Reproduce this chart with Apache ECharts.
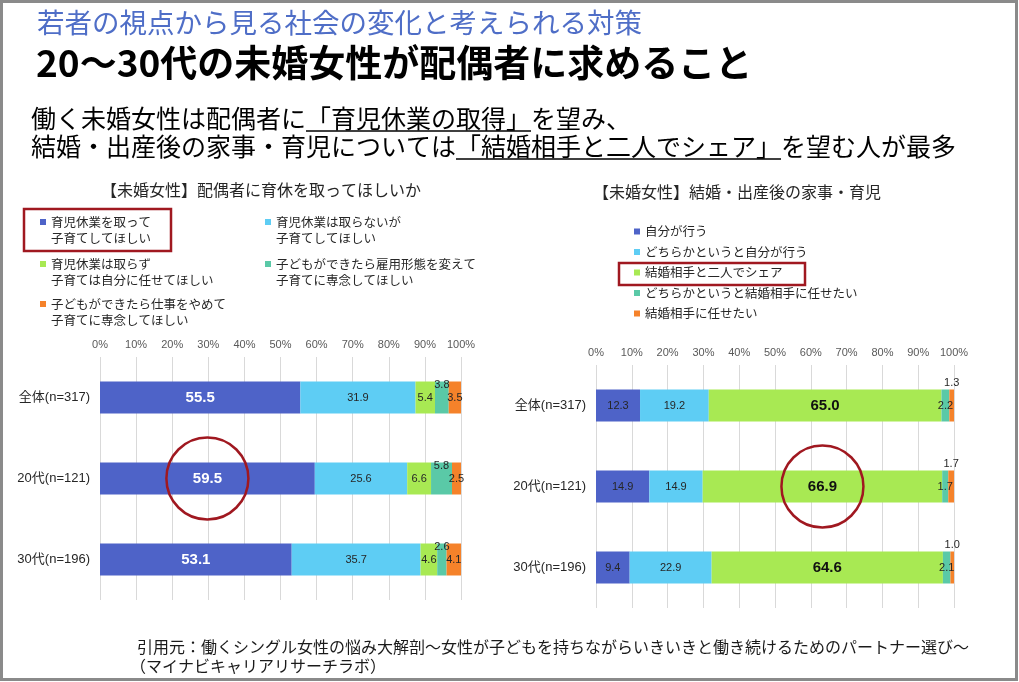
<!DOCTYPE html>
<html>
<head>
<meta charset="utf-8">
<script src="https://cdn.jsdelivr.net/npm/echarts@6/dist/echarts.min.js"></script>
<style>
  html, body { margin: 0; padding: 0; background: #fff; }
  #main { width: 1019px; height: 682px; }
</style>
</head>
<body>
<div id="main"></div>
<script>
// 年代区分
var groups = ["全体(n=317)", "20代(n=121)", "30代(n=196)"];

// 【未婚女性】配偶者に育休を取ってほしいか
var leaveNames = [
  "育児休業を取って\n子育てしてほしい",
  "育児休業は取らないが\n子育てしてほしい",
  "育児休業は取らず\n子育ては自分に任せてほしい",
  "子どもができたら雇用形態を変えて\n子育てに専念してほしい",
  "子どもができたら仕事をやめて\n子育てに専念してほしい",
];
var leaveTake = [55.5, 59.5, 53.1];
var leaveNoTake = [31.9, 25.6, 35.7];
var leaveLeaveToMe = [5.4, 6.6, 4.6];
var leaveChangeJob = [3.8, 5.8, 2.6];
var leaveQuitJob = [3.5, 2.5, 4.1];

// 【未婚女性】結婚・出産後の家事・育児
var choreNames = [
  "自分が行う",
  "どちらかというと自分が行う",
  "結婚相手と二人でシェア",
  "どちらかというと結婚相手に任せたい",
  "結婚相手に任せたい",
];
var choreSelf = [12.3, 14.9, 9.4];
var choreMostlySelf = [19.2, 14.9, 22.9];
var choreShare = [65.0, 66.9, 64.6];
var choreMostlyPartner = [2.2, 1.7, 2.1];
var chorePartner = [1.3, 1.7, 1.0];

var colors = ["#4e63c8", "#5ecdf4", "#a8e953", "#5ac9a7", "#f5822a"];
var RED = "#a01820";
var JP = '"Noto Sans CJK JP"';
var LAT = '"Liberation Sans", "Noto Sans CJK JP"';

var chartDom = document.getElementById("main");
var myChart = echarts.init(chartDom);

function fmt(p) {
  return Number(p.value).toFixed(1);
}

var smallLabel = { show: true, formatter: fmt, fontSize: 11, color: "#262626", fontFamily: LAT };
var bigLabel = { show: true, formatter: fmt, fontSize: 15, fontWeight: "bold", fontFamily: LAT };

function bar(name, data, idx, color, stack, label) {
  return {
    name: name,
    type: "bar",
    stack: stack,
    xAxisIndex: idx,
    yAxisIndex: idx,
    barWidth: 32,
    itemStyle: { color: color },
    label: label,
    data: data,
  };
}

function xAxisOf(idx) {
  return {
    type: "value",
    gridIndex: idx,
    position: "top",
    min: 0,
    max: 100,
    interval: 10,
    axisLine: { show: false },
    axisTick: { show: false },
    axisLabel: { formatter: "{value}%", fontSize: 11, color: "#595959", margin: 7, fontFamily: LAT },
    splitLine: { lineStyle: { color: "#d9d9d9", width: 1 } },
  };
}

function yAxisOf(idx) {
  return {
    type: "category",
    gridIndex: idx,
    inverse: true,
    data: groups,
    axisLine: { show: false },
    axisTick: { show: false },
    axisLabel: { fontSize: 13, color: "#262626", margin: 10, fontFamily: LAT },
  };
}

// 左の凡例は2段組・2行テキスト（空行を先頭に足してマーカーを1行目に揃える）
var legendPos = [
  [40, 222], [265, 222],
  [40, 264], [265, 264],
  [40, 304],
];
var legends = leaveNames.map(function (n, i) {
  return {
    data: [n],
    left: legendPos[i][0],
    top: legendPos[i][1] - 24,
    padding: 0,
    icon: "rect",
    itemWidth: 6,
    itemHeight: 6,
    selectedMode: false,
    formatter: function (name) {
      return "\n" + name;
    },
    textStyle: { fontSize: 12.5, lineHeight: 16, color: "#262626", fontFamily: JP },
  };
});
legends.push({
  data: choreNames,
  orient: "vertical",
  left: 634,
  top: 224,
  padding: 0,
  icon: "rect",
  itemWidth: 6,
  itemHeight: 6,
  itemGap: 5.5,
  selectedMode: false,
  textStyle: { fontSize: 12.5, lineHeight: 15, color: "#262626", fontFamily: JP },
});

var option = {
  animation: false,
  backgroundColor: "#ffffff",
  legend: legends,
  grid: [
    { left: 100, top: 357, width: 361, height: 243 },
    { left: 596, top: 365, width: 358, height: 243 },
  ],
  xAxis: [xAxisOf(0), xAxisOf(1)],
  yAxis: [yAxisOf(0), yAxisOf(1)],
  series: [
    bar(leaveNames[0], leaveTake, 0, colors[0], "L", Object.assign({}, bigLabel, { color: "#ffffff" })),
    bar(leaveNames[1], leaveNoTake, 0, colors[1], "L", smallLabel),
    bar(leaveNames[2], leaveLeaveToMe, 0, colors[2], "L", smallLabel),
    bar(leaveNames[3], leaveChangeJob, 0, colors[3], "L",
      Object.assign({}, smallLabel, { position: ["50%", 3], align: "center", verticalAlign: "middle" })),
    bar(leaveNames[4], leaveQuitJob, 0, colors[4], "L", smallLabel),

    bar(choreNames[0], choreSelf, 1, colors[0], "R", smallLabel),
    bar(choreNames[1], choreMostlySelf, 1, colors[1], "R", smallLabel),
    bar(choreNames[2], choreShare, 1, colors[2], "R", Object.assign({}, bigLabel, { color: "#111111" })),
    bar(choreNames[3], choreMostlyPartner, 1, colors[3], "R", smallLabel),
    bar(choreNames[4], chorePartner, 1, colors[4], "R",
      Object.assign({}, smallLabel, { position: "top", distance: 1 })),
  ],
};
option && myChart.setOption(option);

// 下線の位置は文字幅から計算
var ctx = document.createElement("canvas").getContext("2d");
function textW(s, font) {
  ctx.font = font;
  return ctx.measureText(s).width;
}

var subFont = "25px " + JP;
var sub1a = "働く未婚女性は配偶者に";
var sub1b = "「育児休業の取得」";
var sub1c = "を望み、";
var sub2a = "結婚・出産後の家事・育児については";
var sub2b = "「結婚相手と二人でシェア」";
var sub2c = "を望む人が最多";
var subX = 31;
var u1x = subX + textW(sub1a, subFont);
var u1w = textW(sub1b, subFont);
var u2x = subX + textW(sub2a, subFont);
var u2w = textW(sub2b, subFont);

function txt(text, x, y, font, fill, align) {
  return {
    type: "text",
    x: x,
    y: y,
    style: {
      text: text,
      font: font,
      fill: fill,
      align: align || "left",
      textAlign: align || "left",
      verticalAlign: "middle",
      textVerticalAlign: "middle",
    },
  };
}

// 赤丸は強調したラベルの中心に置く
var c1 = myChart.convertToPixel({ gridIndex: 0 }, [leaveTake[1] / 2, 1]);
var c2 = myChart.convertToPixel({ gridIndex: 1 }, [choreSelf[1] + choreMostlySelf[1] + choreShare[1] / 2, 1]);

var graphics = [
  { type: "rect", shape: { x: 1.5, y: 1.5, width: 1015, height: 678 }, style: { fill: null, stroke: "#8a8a8a", lineWidth: 3 } },
  txt("若者の視点から見る社会の変化と考えられる対策", 37, 23, "27.5px " + JP, "#4f6ec7"),
  txt("20～30代の未婚女性が配偶者に求めること", 36, 63, "bold 37px " + JP, "#000000"),
  txt(sub1a + sub1b + sub1c, subX, 118, subFont, "#000000"),
  txt(sub2a + sub2b + sub2c, subX, 146, subFont, "#000000"),
  { type: "line", shape: { x1: u1x, y1: 131, x2: u1x + u1w, y2: 131 }, style: { stroke: "#000", lineWidth: 1.5 } },
  { type: "line", shape: { x1: u2x, y1: 159, x2: u2x + u2w, y2: 159 }, style: { stroke: "#000", lineWidth: 1.5 } },
  txt("【未婚女性】配偶者に育休を取ってほしいか", 261, 190, "16px " + JP, "#262626", "center"),
  txt("【未婚女性】結婚・出産後の家事・育児", 737, 192, "16px " + JP, "#262626", "center"),
  { type: "rect", shape: { x: 24, y: 209, width: 147, height: 42 }, style: { fill: null, stroke: RED, lineWidth: 2.5 } },
  { type: "rect", shape: { x: 619, y: 263, width: 186, height: 22 }, style: { fill: null, stroke: RED, lineWidth: 2.5 } },
  { type: "circle", shape: { cx: c1[0], cy: c1[1], r: 41 }, style: { fill: null, stroke: RED, lineWidth: 2.5 }, z: 100 },
  { type: "circle", shape: { cx: c2[0], cy: c2[1], r: 41 }, style: { fill: null, stroke: RED, lineWidth: 2.5 }, z: 100 },
  txt("引用元：働くシングル女性の悩み大解剖～女性が子どもを持ちながらいきいきと働き続けるためのパートナー選び～", 137, 647, "16px " + JP, "#1a1a1a"),
  txt("（マイナビキャリアリサーチラボ）", 130, 666, "16px " + JP, "#1a1a1a"),
];
myChart.setOption({ graphic: graphics });
</script>
</body>
</html>
